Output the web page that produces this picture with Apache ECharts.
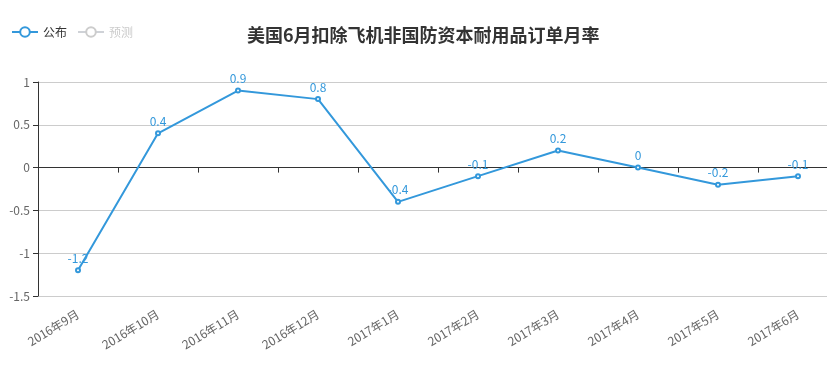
<!DOCTYPE html>
<html><head><meta charset="utf-8">
<script src="https://cdn.jsdelivr.net/npm/echarts@6/dist/echarts.min.js"></script>
<style>html,body{margin:0;padding:0;background:#fff;overflow:hidden;width:827px;height:375px}#c{width:838px;height:375px}</style>
</head><body><div id="c"></div>
<script>
const categories = ['2016年9月','2016年10月','2016年11月','2016年12月','2017年1月','2017年2月','2017年3月','2017年4月','2017年5月','2017年6月'];
const publishedValues = [-1.2, 0.4, 0.9, 0.8, -0.4, -0.1, 0.2, 0, -0.2, -0.1];
const forecastValues = [];
const yTicks = { min: -1.5, max: 1, interval: 0.5 };
const font = '"Noto Sans CJK SC", "Microsoft YaHei", sans-serif';
const mainColor = '#3398DB';
const chart = echarts.init(document.getElementById('c'));
chart.setOption({
  animation: false,
  textStyle: { fontFamily: font },
  title: { text: '美国6月扣除飞机非国防资本耐用品订单月率', left: 242, top: 21,
    textStyle: { fontSize: 18, fontWeight: 'bold', color: '#333', fontFamily: font } },
  legend: { left: 6, top: 21, itemWidth: 26, itemHeight: 12, itemGap: 10,
    textStyle: { fontSize: 12, color: '#333', fontFamily: font }, inactiveColor: '#ccc',
    data: ['公布', '预测'], selected: { '公布': true, '预测': false } },
  grid: { left: 38, top: 82, right: 0, height: 214, containLabel: false },
  xAxis: [{
    type: 'category', data: categories, boundaryGap: true,
    axisLine: { onZero: true, lineStyle: { color: '#333', width: 1 } },
    axisTick: { show: true, length: 5, interval: 0, lineStyle: { color: '#333' } },
    axisLabel: { show: false }, splitLine: { show: false }
  }, {
    type: 'category', data: categories, boundaryGap: true, position: 'bottom',
    axisLine: { show: false }, axisTick: { show: false },
    axisLabel: { rotate: 31, color: '#666', fontSize: 12, margin: 17, interval: 0, fontFamily: font },
    splitLine: { show: false }
  }],
  yAxis: {
    type: 'value', min: yTicks.min, max: yTicks.max, interval: yTicks.interval,
    axisLine: { show: true, lineStyle: { color: '#333' } },
    axisTick: { show: true, length: 5, lineStyle: { color: '#333' } },
    axisLabel: { color: '#666', fontSize: 12, margin: 8, fontFamily: font },
    splitLine: { lineStyle: { color: '#ccc' } }
  },
  series: [{
    name: '公布', type: 'line', data: publishedValues, xAxisIndex: 0,
    symbol: 'emptyCircle', symbolSize: 4, color: mainColor,
    lineStyle: { width: 2, color: mainColor },
    label: { show: true, position: 'top', color: mainColor, fontSize: 12, distance: 3, fontFamily: font }
  }, {
    name: '预测', type: 'line', data: forecastValues, xAxisIndex: 0,
    symbol: 'emptyCircle', symbolSize: 4, color: '#c9c9c9'
  }]
});
</script></body></html>
